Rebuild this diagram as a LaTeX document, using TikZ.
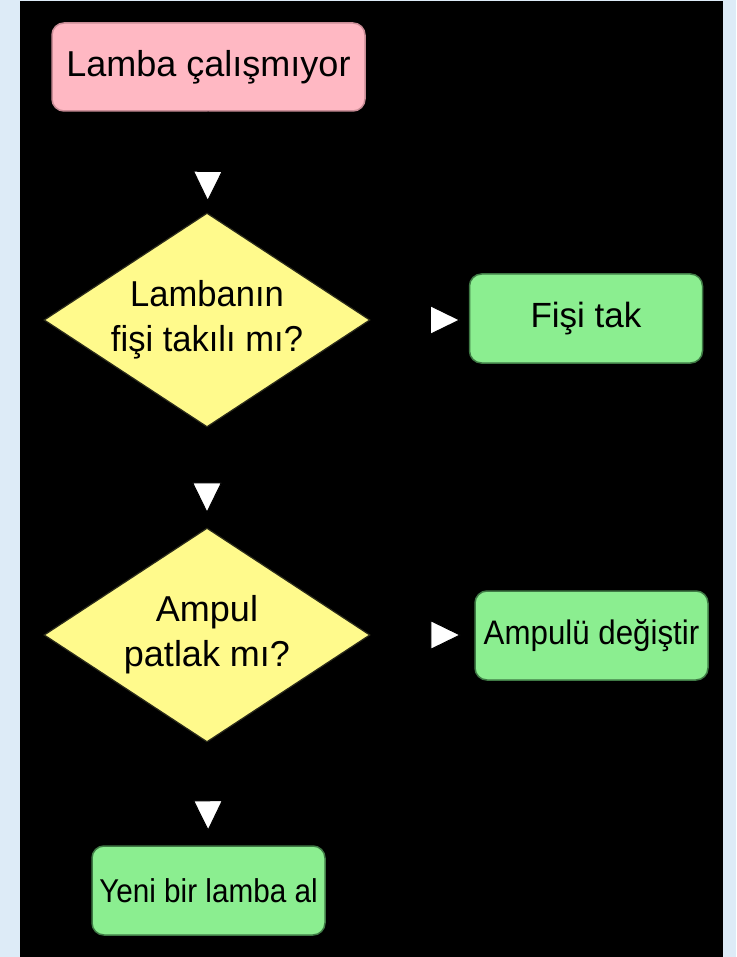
\documentclass[tikz,border=0pt]{standalone}
\usepackage{fontspec}
\setmainfont{Liberation Sans}
\usetikzlibrary{shapes.geometric,arrows.meta}
\definecolor{bgblue}{HTML}{DDEBF7}
\definecolor{pinkfill}{HTML}{FFB8C3}
\definecolor{pinkline}{HTML}{C98C96}
\definecolor{greenfill}{HTML}{8BEE90}
\definecolor{greenline}{HTML}{3F7A45}
\definecolor{yellowfill}{HTML}{FFFA8C}
\definecolor{yellowline}{HTML}{2A2A1A}
\tikzset{
  box/.style={rectangle, rounded corners=12pt, inner sep=0pt, line width=1.5pt, align=center, text=black},
  startbox/.style={box, fill=pinkfill, draw=pinkline, minimum width=313pt, minimum height=88pt, font=\fontsize{36}{45}\selectfont},
  actbox/.style={box, fill=greenfill, draw=greenline, minimum width=233pt, minimum height=89pt},
  decision/.style={diamond, fill=yellowfill, draw=yellowline, line width=1.2pt, inner sep=0pt, minimum width=326pt, minimum height=214pt},
  dtext/.style={align=center, text=black, font=\fontsize{36}{45}\selectfont},
  conn/.style={draw=black, line width=1pt, -{Triangle[width=30pt,length=31pt,fill=white]}}
}
\begin{document}
\begin{tikzpicture}[x=1pt,y=-1pt]
\useasboundingbox (0,0) rectangle (736,957);
\fill[bgblue] (0,0) rectangle (736,957);
\fill[black] (20,1) rectangle (723,957);
\node[startbox] (start) at (208.5,67) {Lamba çalışmıyor};
\node[decision, label={[dtext, name=d1t]center:{\scalebox{0.96}[1]{Lambanın}\\\scalebox{0.96}[1]{fişi takılı mı?}}}] (d1) at (207,320) {};
\node[decision, label={[dtext, name=d2t]center:{Ampul\\patlak mı?}}] (d2) at (207,635) {};
\node[actbox, font=\fontsize{35}{42}\selectfont] (fis) at (586,318.5) {Fişi tak};
\node[actbox, font=\fontsize{34}{40}\selectfont] (amp) at (591.5,635.5) {\scalebox{0.92}[1]{Ampulü değiştir}};
\node[actbox, font=\fontsize{33}{40}\selectfont] (yeni) at (208.5,890.5) {\scalebox{0.9}[1]{Yeni bir lamba al}};
\draw[conn, shorten >=11pt] (start) -- (d1);
\draw[conn, shorten >=14pt] (d1) -- (d2);
\draw[conn, shorten >=14pt] (d2) -- (yeni);
\draw[conn, shorten >=8pt] (d1.east) -- (d1.east -| fis.west);
\draw[conn, shorten >=13pt] (d2.east) -- (d2.east -| amp.west);
\end{tikzpicture}
\end{document}
